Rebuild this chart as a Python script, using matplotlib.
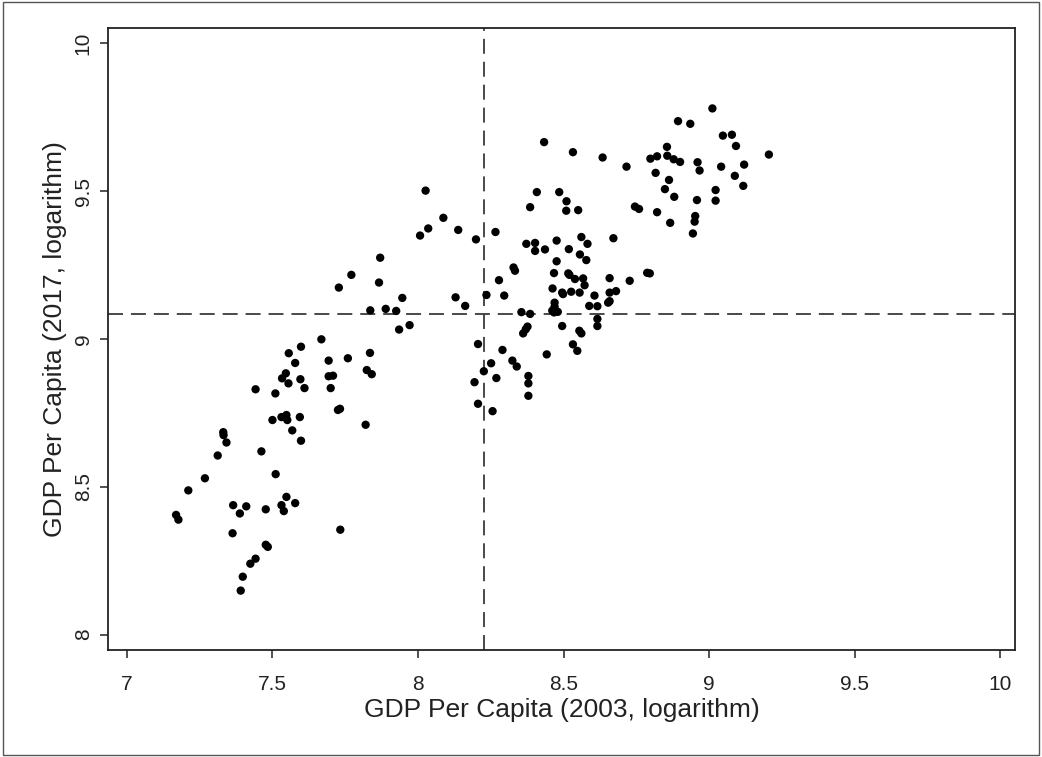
import matplotlib
matplotlib.use('Agg')
import matplotlib.pyplot as plt
from matplotlib.patches import Rectangle

# log GDP per capita, 2003 (x) and 2017 (y)
gdp2003 = [
    7.169, 7.177, 7.211, 7.268, 7.312, 7.331, 7.332, 7.342, 7.365, 7.363,
    7.388, 7.410, 7.391, 7.398, 7.424, 7.442, 7.442, 7.462, 7.477, 7.477,
    7.484, 7.500, 7.510, 7.511, 7.531, 7.539, 7.548, 7.578, 7.531, 7.548,
    7.551, 7.594, 7.568, 7.598, 7.533, 7.546, 7.555, 7.596, 7.610, 7.556,
    7.578, 7.598, 7.668, 7.693, 7.693, 7.708, 7.700, 7.725, 7.732, 7.733,
    7.759, 7.820, 7.824, 7.841, 7.835, 7.728, 7.771, 7.866, 7.870, 7.836,
    7.889, 7.925, 7.946, 7.935, 7.971, 8.007, 8.035, 8.026, 8.087, 8.138,
    8.199, 8.266, 8.129, 8.162, 8.235, 8.278, 8.296, 8.206, 8.251, 8.226,
    8.269, 8.194, 8.206, 8.256, 8.290, 8.324, 8.339, 8.328, 8.333, 8.355,
    8.385, 8.376, 8.370, 8.361, 8.379, 8.379, 8.379, 8.442, 8.372, 8.402,
    8.402, 8.436, 8.385, 8.408, 8.433, 8.476, 8.476, 8.467, 8.462, 8.469,
    8.469, 8.461, 8.467, 8.480, 8.495, 8.498, 8.495, 8.485, 8.510, 8.509,
    8.550, 8.532, 8.518, 8.556, 8.578, 8.561, 8.582, 8.516, 8.520, 8.539,
    8.567, 8.572, 8.526, 8.555, 8.606, 8.554, 8.561, 8.532, 8.547, 8.588,
    8.616, 8.616, 8.616, 8.653, 8.658, 8.658, 8.680, 8.658, 8.671, 8.634,
    8.716, 8.727, 8.745, 8.759, 8.787, 8.796, 8.798, 8.821, 8.816, 8.821,
    8.855, 8.856, 8.878, 8.900, 8.862, 8.848, 8.880, 8.866, 8.893, 8.935,
    8.944, 8.952, 8.950, 8.958, 8.960, 8.967, 9.011, 9.022, 9.022, 9.041,
    9.047, 9.078, 9.092, 9.088, 9.120, 9.117, 9.205,
]
gdp2017 = [
    8.405, 8.389, 8.488, 8.529, 8.606, 8.685, 8.675, 8.650, 8.438, 8.343,
    8.410, 8.434, 8.149, 8.196, 8.240, 8.257, 8.830, 8.620, 8.424, 8.304,
    8.297, 8.726, 8.816, 8.543, 8.438, 8.418, 8.466, 8.445, 8.736, 8.743,
    8.726, 8.736, 8.691, 8.656, 8.867, 8.884, 8.850, 8.864, 8.834, 8.952,
    8.919, 8.974, 8.999, 8.927, 8.874, 8.876, 8.834, 8.760, 8.764, 8.355,
    8.935, 8.710, 8.895, 8.881, 8.953, 9.174, 9.217, 9.191, 9.275, 9.097,
    9.102, 9.095, 9.139, 9.032, 9.047, 9.350, 9.374, 9.502, 9.410, 9.369,
    9.337, 9.362, 9.141, 9.112, 9.149, 9.199, 9.147, 8.983, 8.918, 8.891,
    8.868, 8.854, 8.781, 8.756, 8.963, 8.927, 8.907, 9.242, 9.231, 9.091,
    9.085, 9.042, 9.033, 9.019, 8.875, 8.850, 8.808, 8.948, 9.322, 9.325,
    9.298, 9.303, 9.446, 9.497, 9.666, 9.333, 9.263, 9.223, 9.171, 9.123,
    9.109, 9.096, 9.090, 9.092, 9.157, 9.152, 9.044, 9.497, 9.466, 9.434,
    9.436, 9.632, 9.304, 9.286, 9.267, 9.345, 9.322, 9.222, 9.217, 9.203,
    9.205, 9.182, 9.160, 9.157, 9.147, 9.028, 9.019, 8.982, 8.960, 9.112,
    9.111, 9.068, 9.044, 9.123, 9.128, 9.157, 9.162, 9.206, 9.341, 9.614,
    9.583, 9.197, 9.448, 9.440, 9.224, 9.222, 9.610, 9.618, 9.562, 9.429,
    9.650, 9.620, 9.608, 9.599, 9.538, 9.507, 9.481, 9.393, 9.737, 9.728,
    9.357, 9.416, 9.397, 9.470, 9.598, 9.570, 9.780, 9.504, 9.468, 9.583,
    9.688, 9.691, 9.653, 9.552, 9.590, 9.518, 9.624,
]

# reference lines (sample means)
x_ref = 8.228
y_ref = 9.083

x_ticks = [7, 7.5, 8, 8.5, 9, 9.5, 10]
x_ticklabels = ['7', '7.5', '8', '8.5', '9', '9.5', '10']
y_ticks = [8, 8.5, 9, 9.5, 10]
y_ticklabels = ['8', '8.5', '9', '9.5', '10']

plt.rcParams['font.family'] = ['Liberation Sans', 'DejaVu Sans']

fig = plt.figure(figsize=(10.42, 7.57), dpi=100)
fig.patch.set_facecolor('white')
ax = fig.add_axes([0.1036, 0.1413, 0.8704, 0.8217])

ax.scatter(gdp2003, gdp2017, s=36, c='black', edgecolors='none', zorder=3)
ax.axvline(x_ref, color='#3a3a3a', linewidth=1.3, dashes=(8.3, 4.4), zorder=2)
ax.axhline(y_ref, color='#3a3a3a', linewidth=1.3, dashes=(8.3, 4.4), zorder=2)

ax.set_xlim(6.935, 10.05)
ax.set_ylim(7.948, 10.052)
ax.set_xticks(x_ticks)
ax.set_xticklabels(x_ticklabels)
ax.set_yticks(y_ticks)
ax.set_yticklabels(y_ticklabels, rotation=90, va='center')
ax.tick_params(direction='out', length=6, width=1.1, colors='#222222',
               labelsize=15, labelcolor='#222222')
ax.tick_params(axis='x', pad=12)
ax.tick_params(axis='y', pad=5)

for sp in ax.spines.values():
    sp.set_linewidth(1.3)
    sp.set_color('#222222')

ax.set_xlabel('GDP Per Capita (2003, logarithm)', fontsize=19, color='#222222', labelpad=3)
ax.set_ylabel('GDP Per Capita (2017, logarithm)', fontsize=19, color='#222222', labelpad=5)

# thin frame around the whole figure
fig.add_artist(Rectangle((0.003, 0.003), 0.994, 0.994, transform=fig.transFigure,
                         fill=False, edgecolor='#555555', linewidth=1.0))

fig.savefig('out.png', dpi=100, facecolor='white')
